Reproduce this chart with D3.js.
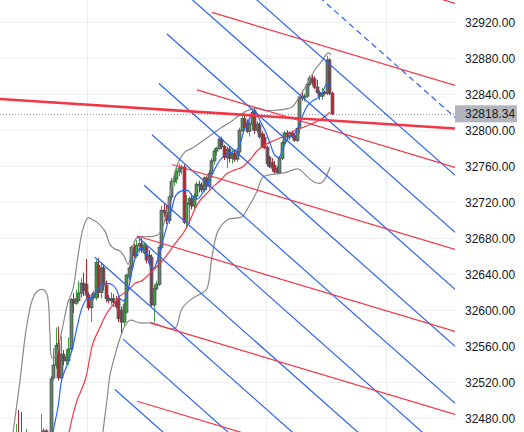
<!DOCTYPE html>
<html><head><meta charset="utf-8">
<script src="https://cdn.jsdelivr.net/npm/d3@7"></script>
<style>html,body{margin:0;padding:0;background:#fff;overflow:hidden}</style>
</head><body><svg id="c" width="524" height="432"></svg>
<script>
// ---- data ----
const opens = [32444,32447,32458,32449,32442,32449,32453,32444,32451,32448,
32452,32456,32460,32466,32456,32458,32525,32539,32563,32525,
32551,32544,32544,32557,32612,32608,32611,32619,32630,32629,
32617,32603,32614,32614,32650,32620,32647,32628,32613,32611,
32613,32609,32613,32600,32587,32598,32637,32648,32670,32661,
32672,32674,32664,32670,32661,32659,32606,32624,32629,32670,
32711,32709,32700,32726,32743,32746,32754,32758,32759,32698,
32718,32724,32716,32727,32740,32739,32734,32747,32738,32752,
32766,32777,32780,32790,32782,32770,32779,32769,32774,32768,
32776,32800,32813,32809,32799,32807,32822,32800,32806,32796,
32792,32781,32770,32764,32761,32758,32753,32769,32786,32797,
32793,32797,32794,32789,32802,32837,32836,32838,32851,32858,
32857,32848,32842,32838,32842,32841,32878,32841];
const highs = [32460,32474,32489,32487,32458,32468,32462,32459,32460,32458,
32463,32485,32469,32468,32462,32527,32558,32581,32582,32571,
32556,32556,32570,32614,32619,32623,32633,32636,32642,32657,
32620,32618,32622,32656,32658,32653,32651,32633,32617,32620,
32618,32616,32616,32604,32611,32641,32650,32672,32674,32678,
32681,32680,32676,32674,32667,32662,32628,32633,32672,32716,
32718,32717,32728,32747,32750,32758,32763,32762,32762,32728,
32727,32730,32730,32743,32744,32742,32749,32749,32756,32769,
32780,32782,32793,32793,32784,32782,32782,32778,32779,32778,
32803,32817,32816,32812,32811,32822,32826,32810,32809,32799,
32796,32783,32772,32769,32766,32760,32771,32788,32799,32800,
32799,32799,32797,32803,32838,32844,32841,32853,32861,32862,
32860,32856,32844,32847,32844,32883,32880,32843];
const lows = [32436,32439,32442,32436,32433,32442,32439,32438,32442,32439,
32444,32447,32453,32450,32449,32456,32522,32535,32522,32523,
32539,32540,32539,32553,32597,32606,32609,32614,32616,32613,
32600,32587,32611,32611,32614,32613,32622,32609,32608,32606,
32604,32602,32587,32574,32583,32596,32633,32644,32658,32658,
32664,32664,32662,32652,32651,32604,32587,32622,32627,32667,
32704,32696,32696,32722,32738,32741,32749,32751,32696,32691,
32696,32712,32713,32723,32731,32731,32731,32734,32734,32747,
32762,32772,32778,32779,32767,32758,32764,32763,32765,32765,
32772,32798,32800,32797,32793,32800,32796,32797,32791,32780,
32779,32760,32758,32754,32752,32751,32751,32767,32783,32790,
32789,32791,32787,32787,32796,32833,32832,32836,32849,32850,
32846,32841,32834,32834,32839,32839,32839,32817];
const closes = [32450,32456,32447,32442,32449,32453,32444,32451,32448,32452,
32456,32460,32466,32456,32458,32524,32539,32561,32525,32551,
32544,32548,32557,32612,32608,32613,32619,32630,32622,32617,
32603,32614,32619,32653,32620,32647,32628,32613,32611,32613,
32609,32604,32591,32587,32606,32639,32647,32670,32661,32672,
32674,32667,32672,32656,32658,32606,32624,32629,32670,32711,
32709,32700,32726,32743,32746,32754,32758,32759,32698,32719,
32724,32716,32727,32740,32739,32734,32747,32738,32752,32766,
32777,32780,32790,32782,32770,32779,32769,32774,32768,32776,
32800,32813,32803,32799,32807,32820,32800,32807,32793,32782,
32781,32763,32760,32758,32754,32753,32769,32786,32797,32793,
32797,32794,32789,32802,32837,32836,32838,32851,32858,32853,
32848,32842,32838,32841,32841,32878,32841,32818.34];

const priceTicks = [32480,32520,32560,32600,32640,32680,32720,32760,32800,32840,32880,32920];
const timeGridBars = [29.5,100.7,148.5];
const lastPrice = 32818.34;

// indicator curves: [bar index, price]
const upperBand = [[0,32464],[2.8,32522],[5.2,32578],[7.6,32611],[9.6,32621],[11.9,32623],[13.5,32618],[14.7,32574],[15.5,32547],[17.1,32550],[19.5,32578],[21.9,32609],[23.9,32624],[25.9,32661],[27.9,32691],[29.9,32703],[31.4,32701],[33.4,32698],[36.6,32688],[38.6,32673],[40.6,32668],[42.6,32666],[44.6,32658],[45.8,32651],[47.8,32672],[49.4,32681],[52.5,32682],[55.3,32682],[57.7,32684],[59.7,32693],[61.3,32711],[63.3,32739],[65.3,32761],[68.5,32776],[71.3,32780],[74.4,32786],[78.4,32794],[82.4,32802],[86.4,32809],[90.4,32817],[94.3,32823],[97.5,32824],[100.3,32822],[103.1,32822],[107.1,32823],[111.1,32826],[113.1,32833],[116.2,32847],[120.2,32867],[123,32877],[125.4,32886],[126.6,32884]];
const lowerBand = [[34.5,32420],[35.8,32464],[37.4,32500],[38.6,32528],[40.6,32550],[42.6,32569],[44.6,32583],[46.6,32589],[50.6,32586],[55.7,32586],[59.7,32582],[64.5,32580],[67.3,32602],[71.3,32613],[75.2,32619],[77.2,32624],[79.2,32659],[81.6,32688],[85.6,32701],[91.2,32704],[93.6,32714],[97.1,32732],[99.5,32748],[103.1,32751],[108.3,32753],[113.5,32757],[117.4,32748],[120.2,32742],[123,32742],[126.2,32759]];
const fastMA = [[15,32440],[15.9,32464],[17.9,32492],[19.5,32524],[21.5,32539],[23.5,32556],[25.5,32581],[27.5,32603],[29.5,32613],[31.4,32614],[33.4,32622],[35.4,32629],[37.4,32630],[39.8,32628],[41.4,32622],[42.6,32613],[44.2,32611],[45.8,32622],[47.4,32644],[49,32661],[50.6,32669],[52.5,32667],[54.5,32650],[56.1,32647],[57.7,32658],[59.7,32678],[61.7,32698],[63.3,32714],[64.9,32728],[67.3,32733],[69.7,32733],[71.7,32726],[73.6,32724],[75.6,32731],[77.6,32741],[79.6,32753],[82.4,32767],[85.2,32774],[87.6,32776],[89.6,32780],[92.4,32803],[95.1,32817],[96.7,32820],[98.3,32811],[100.3,32800],[102.3,32786],[104.3,32772],[105.9,32770],[107.5,32780],[109.5,32791],[111.5,32794],[113.5,32803],[115.4,32817],[117.4,32828],[119.4,32833],[121.4,32836],[123,32841],[125,32852],[126.6,32847]];
const slowMA = [[21,32440],[22.3,32464],[25.5,32500],[28.7,32522],[31.8,32563],[34.6,32581],[37.4,32597],[39.8,32606],[42.6,32616],[45.8,32622],[48.6,32630],[51.4,32633],[54.5,32641],[58.5,32652],[61.7,32663],[64.5,32674],[66.5,32681],[68.5,32689],[70.5,32700],[72.5,32713],[74.4,32722],[77.2,32730],[79.6,32737],[82.4,32744],[85.2,32752],[88.4,32756],[91.2,32759],[94.3,32767],[97.1,32777],[100.3,32784],[104.3,32789],[108.3,32794],[112.3,32800],[116.2,32804],[120.2,32809],[123,32813],[126.2,32820]];

// drawn trend lines: [bar1, price1, bar2, price2]
const blueLines = [[90,32962.4,176,32750.0],[65,32960.8,176,32686.6],[61.3,32907,176,32623.3],[58.1,32852,176,32560.0],[55.3,32795,176,32496.6],[52.2,32739,176,32432.2],[49.4,32682,176,32368.8],[32.6,32659,176,32304.4],[43.8,32568,176,32241.1],[40.6,32512,176,32176.6]];
const blueDashed = [[110,32977.4,176,32814.4]];
const redLines = [[150,32962.9,176,32941.1],[79.2,32931,176,32850.0],[73.2,32845,176,32758.9],[63.3,32762,176,32667.7],[49.4,32682.6,176,32576.6],[54.5,32586,176,32484.4],[49.4,32499,176,32393.3]];
const redThick = [[-6,32835,176,32802]];

// ---- drawing ----
const W = 524, H = 432, plotW = 455;
const svg = d3.select('#c');
const x = d3.scaleLinear().domain([0, closes.length - 1]).range([13, 332]);
const y = d3.scaleLinear().domain([32464.8, 32944.8]).range([H, 0]);

svg.append('rect').attr('width', W).attr('height', H).attr('fill', '#fff');
svg.append('clipPath').attr('id', 'clip').append('rect').attr('width', plotW).attr('height', H);
const plot = svg.append('g').attr('clip-path', 'url(#clip)');

// grid
plot.selectAll('.hg').data(priceTicks).join('line')
  .attr('x1', 0).attr('x2', plotW).attr('y1', d => Math.round(y(d)) + 0.5).attr('y2', d => Math.round(y(d)) + 0.5)
  .attr('stroke', '#eceef2').attr('stroke-width', 1);
plot.selectAll('.vg').data(timeGridBars).join('line')
  .attr('y1', 0).attr('y2', H).attr('x1', d => Math.round(x(d)) + 0.5).attr('x2', d => Math.round(x(d)) + 0.5)
  .attr('stroke', '#eceef2').attr('stroke-width', 1);

// last price dotted line
plot.append('line').attr('x1', 0).attr('x2', plotW)
  .attr('y1', Math.round(y(lastPrice)) + 0.5).attr('y2', Math.round(y(lastPrice)) + 0.5)
  .attr('stroke', '#9598a1').attr('stroke-width', 1).attr('stroke-dasharray', '1,2');

// candles
const idx = d3.range(closes.length);
const green = '#3fa33f', red = '#b5212e';
plot.append('g').selectAll('line').data(idx).join('line')
  .attr('x1', i => Math.round(x(i)) + 0.5).attr('x2', i => Math.round(x(i)) + 0.5)
  .attr('y1', i => y(highs[i])).attr('y2', i => y(lows[i]))
  .attr('stroke', i => closes[i] >= opens[i] ? green : red).attr('stroke-width', 1);
plot.append('g').selectAll('rect').data(idx).join('rect')
  .attr('x', i => Math.round(x(i)) - 0.8).attr('width', 2.6)
  .attr('y', i => y(Math.max(opens[i], closes[i])))
  .attr('height', i => Math.max(1, Math.abs(y(opens[i]) - y(closes[i]))))
  .attr('fill', i => closes[i] >= opens[i] ? green : red)
  .attr('stroke', '#55575d').attr('stroke-width', 1.1);

// indicators
const curve = d3.line().x(d => x(d[0])).y(d => y(d[1])).curve(d3.curveCatmullRom.alpha(0.5));
[[upperBand, '#8a8a8a'], [lowerBand, '#8a8a8a'], [slowMA, '#f23645'], [fastMA, '#2962ff']].forEach(([data, col]) => {
  plot.append('path').datum(data).attr('d', curve).attr('fill', 'none')
    .attr('stroke', col).attr('stroke-width', 1.2);
});

// trend lines
function drawSegs(data, col, w, dash) {
  plot.append('g').selectAll('line').data(data).join('line')
    .attr('x1', d => x(d[0])).attr('y1', d => y(d[1]))
    .attr('x2', d => x(d[2])).attr('y2', d => y(d[3]))
    .attr('stroke', col).attr('stroke-width', w)
    .attr('stroke-dasharray', dash || null);
}
drawSegs(blueLines, '#2d62f3', 1.2);
drawSegs(blueDashed, '#2d62f3', 1.2, '6,4');
drawSegs(redLines, '#f23645', 1.2);
drawSegs(redThick, '#f23645', 2.6);

// price axis
const ax = svg.append('g').attr('font-family', '"Liberation Sans", Arial, sans-serif').attr('font-size', 12).attr('fill', '#131722');
ax.selectAll('text').data(priceTicks).join('text')
  .attr('x', 465).attr('y', d => y(d)).attr('dy', '0.35em').text(d => d3.format('.2f')(d));
ax.append('rect').attr('x', plotW).attr('y', y(lastPrice) - 8.5).attr('width', 62).attr('height', 17).attr('fill', '#b2b5be');
ax.append('text').attr('x', 465).attr('y', y(lastPrice)).attr('dy', '0.35em').text(d3.format('.2f')(lastPrice));
</script></body></html>
